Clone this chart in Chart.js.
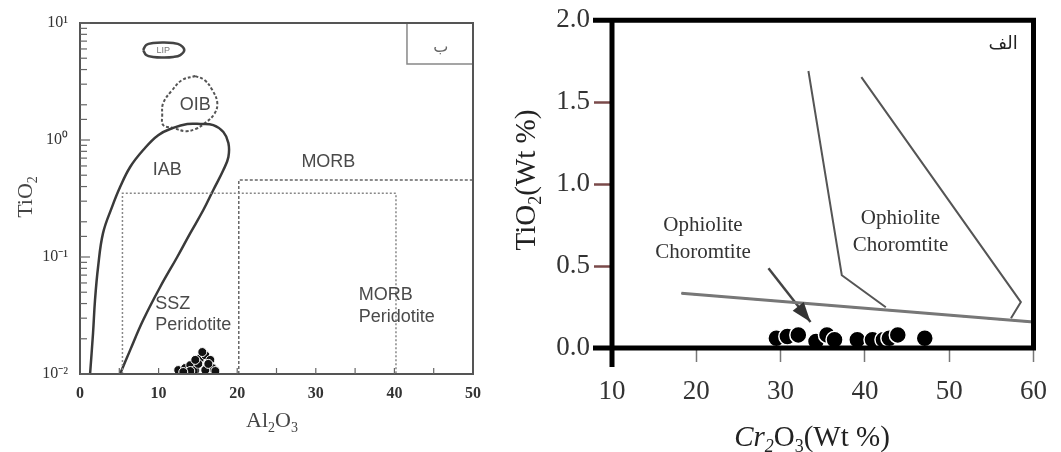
<!DOCTYPE html>
<html>
<head>
<meta charset="utf-8">
<script src="https://cdn.jsdelivr.net/npm/chart.js@4.4.1/dist/chart.umd.min.js"></script>
<style>
  body { margin: 0; background: #fff; width: 1061px; height: 452px; overflow: hidden; position: relative; }
  #leftBox { position: absolute; left: 0; top: 0; width: 500px; height: 452px; }
  #rightBox { position: absolute; left: 500px; top: 0; width: 561px; height: 452px; }
</style>
</head>
<body>
<div id="leftBox"><canvas id="leftChart" width="500" height="452"></canvas></div>
<div id="rightBox"><canvas id="rightChart" width="561" height="452"></canvas></div>
<script>
// ---- left diagram: TiO2 (log) vs Al2O3 ----
const leftXTicks = [0, 10, 20, 30, 40, 50];
const leftXMinor = [5, 10, 15, 20, 25, 30, 35, 40, 45];
const leftYTickLabels = ['10⁻²', '10⁻¹', '10⁰', '10¹'];

const lipField = [[8.04,5.87],[8.42,6.49],[9.31,6.74],[10.59,6.81],[11.86,6.74],[12.76,6.49],[13.27,5.87],
  [12.76,5.32],[11.86,5.12],[10.59,5.07],[9.31,5.12],[8.42,5.32],[8.04,5.87]];
const oibField = [[14.67,3.52],[15.82,3.26],[16.84,2.67],[17.47,2.07],[17.09,1.67],[15.94,1.40],[14.67,1.24],
  [13.39,1.19],[11.86,1.27],[10.59,1.34],[10.46,1.64],[10.59,2.07],[11.73,2.67],[13.01,3.26],[14.67,3.52]];
const iabField = [[1.28,0.01],[1.66,0.0224],[1.91,0.0429],[2.3,0.0821],[2.93,0.16],[4.08,0.268],[5.1,0.396],
  [6.38,0.588],[8.04,0.821],[9.95,1.1],[11.86,1.27],[13.65,1.37],[15.31,1.37],[16.96,1.34],[18.24,1.17],
  [18.88,0.943],[18.88,0.716],[18.24,0.554],[16.96,0.374],[15.69,0.252],[14.03,0.16],[12.37,0.1],
  [10.2,0.0554],[8.04,0.0289],[6.38,0.016],[5.1,0.01]];
const sszBox = [[5.4,0.01],[5.4,0.35],[40.2,0.35],[40.2,0.01]];
const morbBox = [[20.2,0.01],[20.2,0.455],[50,0.455]];
const keyBox = [[41.6,10],[41.6,4.47],[50,4.47]];
const leftSamples = [[12.5,0.0108],[13.39,0.01125],[14.03,0.0119],[14.67,0.0108],[15.31,0.0137],[15.94,0.0145],
  [16.58,0.0132],[16.84,0.01125],[15.94,0.0108],[15.05,0.0122],[14.03,0.0106],[17.22,0.0106],[15.56,0.0154],
  [16.33,0.0122],[13.14,0.0104],[14.67,0.0132]];

const leftNotes = [
  {t: 'OIB', x: 14.67, y: 1.99, align: 'center'},
  {t: 'IAB', x: 11.1, y: 0.554, align: 'center'},
  {t: 'MORB', x: 31.6, y: 0.648, align: 'center'},
  {t: 'SSZ', x: 9.57, y: 0.0396, align: 'left'},
  {t: 'Peridotite', x: 9.57, y: 0.0262, align: 'left'},
  {t: 'MORB', x: 35.46, y: 0.0473, align: 'left'},
  {t: 'Peridotite', x: 35.46, y: 0.0307, align: 'left'}
];

// ---- right diagram: TiO2 vs Cr2O3 ----
const rightXTicks = [10, 20, 30, 40, 50, 60];
const rightYTicks = [0, 0.5, 1.0, 1.5, 2.0];
const fieldA = [[33.3,1.69],[37.26,0.444],[42.48,0.249]];
const fieldB = [[39.58,1.653],[58.5,0.28],[57.33,0.182]];
const boundary = [[18.24,0.334],[60,0.158]];
const arrowLine = [[28.56,0.486],[33.55,0.158]];
const rightSamples = [[29.5,0.06],[30.8,0.07],[32.1,0.08],[34.2,0.04],[35.5,0.08],[36.4,0.05],
  [39.1,0.05],[40.9,0.05],[42.2,0.05],[42.9,0.06],[43.9,0.08],[47.1,0.06]];

const rightNotes = [
  {t: 'Ophiolite', x: 20.79, y: 0.748},
  {t: 'Choromtite', x: 20.79, y: 0.584},
  {t: 'Ophiolite', x: 44.22, y: 0.79},
  {t: 'Choromtite', x: 44.22, y: 0.626}
];

const pts = a => a.map(([x, y]) => ({x, y}));
const SERIF = '"Liberation Serif", "Times New Roman", serif';
const SANS = '"Liberation Sans", Arial, sans-serif';
Chart.defaults.font.family = SERIF;
Chart.defaults.animation = false;

function line(data, color, width, dash, tension) {
  return {data: pts(data), showLine: true, borderColor: color, borderWidth: width,
    borderDash: dash || [], pointRadius: 0, tension: tension || 0, fill: false};
}

// text with subscripts / italics, parts = [[text, 'i'|'s'|'is'|'']]
function richText(ctx, parts, cx, cy, size, rot, color) {
  ctx.save();
  ctx.translate(cx, cy);
  ctx.rotate(rot || 0);
  ctx.fillStyle = color;
  ctx.textBaseline = 'alphabetic';
  const fontOf = s => (s.includes('i') ? 'italic ' : '') + (s.includes('s') ? Math.round(size * 0.62) : size) + 'px ' + SERIF;
  let w = 0;
  parts.forEach(([t, s]) => { ctx.font = fontOf(s); w += ctx.measureText(t).width; });
  let x = -w / 2;
  parts.forEach(([t, s]) => {
    ctx.font = fontOf(s);
    ctx.fillText(t, x, size * 0.34 + (s.includes('s') ? size * 0.22 : 0));
    x += ctx.measureText(t).width;
  });
  ctx.restore();
}

const leftDecor = {
  id: 'leftDecor',
  afterDatasetsDraw(chart) {
    const {ctx, chartArea: a, scales: {x, y}} = chart;
    ctx.save();
    ctx.strokeStyle = '#555';
    ctx.lineWidth = 2;
    ctx.strokeRect(a.left, a.top, a.right - a.left, a.bottom - a.top);
    ctx.lineWidth = 1.2;
    ctx.strokeStyle = '#666';
    y.ticks.forEach(t => {
      const e = Math.log10(t.value);
      const major = Math.abs(e - Math.round(e)) < 1e-6;
      const p = y.getPixelForValue(t.value);
      ctx.beginPath(); ctx.moveTo(a.left, p); ctx.lineTo(a.left + (major ? 10 : 7), p); ctx.stroke();
    });
    leftXMinor.forEach(v => {
      const p = x.getPixelForValue(v);
      ctx.beginPath(); ctx.moveTo(p, a.bottom); ctx.lineTo(p, a.bottom - 6); ctx.stroke();
    });
    ctx.fillStyle = '#4a4a4a';
    ctx.font = '18px ' + SANS;
    ctx.textBaseline = 'middle';
    leftNotes.forEach(n => {
      ctx.textAlign = n.align;
      ctx.fillText(n.t, x.getPixelForValue(n.x), y.getPixelForValue(n.y));
    });
    ctx.textAlign = 'center';
    ctx.font = '9px ' + SANS;
    ctx.fillStyle = '#777';
    ctx.fillText('LIP', x.getPixelForValue(10.59), y.getPixelForValue(5.87));
    ctx.font = '16px "DejaVu Sans", sans-serif';
    ctx.fillStyle = '#666';
    ctx.fillText('ب', x.getPixelForValue(45.9), y.getPixelForValue(6.1));
    ctx.restore();
    richText(ctx, [['TiO', ''], ['2', 's']], 25, 197, 22, -Math.PI / 2, '#444');
    richText(ctx, [['Al', ''], ['2', 's'], ['O', ''], ['3', 's']], 272, 420, 22, 0, '#444');
  }
};

new Chart(document.getElementById('leftChart'), {
  type: 'scatter',
  data: {
    datasets: [
      line(sszBox, '#888', 1.5, [2, 2]),
      line(morbBox, '#666', 1.5, [3, 2]),
      line(keyBox, '#888', 1.5),
      line(iabField, '#3a3a3a', 2.5, [], 0.4),
      line(oibField, '#555', 2, [3, 2], 0.4),
      line(lipField, '#444', 2.5, [], 0.4),
      {data: pts(leftSamples), pointRadius: 4.5, pointBackgroundColor: '#111', pointBorderColor: '#fff', pointBorderWidth: 1}
    ]
  },
  options: {
    responsive: false,
    layout: {padding: {top: 23, right: 27, left: 0, bottom: 0}},
    plugins: {legend: {display: false}, tooltip: {enabled: false}},
    scales: {
      x: {
        type: 'linear', min: 0, max: 50,
        afterFit: s => { s.height = 78; },
        afterBuildTicks: s => { s.ticks = leftXTicks.map(v => ({value: v})); },
        grid: {display: false},
        border: {display: false},
        ticks: {padding: 2, color: '#333', font: {size: 16, weight: 'bold'}}
      },
      y: {
        type: 'logarithmic', min: 0.01, max: 10,
        afterFit: s => { s.width = 80; },
        grid: {display: false},
        border: {display: false},
        ticks: {
          padding: 4, color: '#333', font: {size: 16},
          autoSkip: false,
          callback: v => {
            const e = Math.log10(v);
            return Math.abs(e - Math.round(e)) < 1e-6 ? leftYTickLabels[Math.round(e) + 2] : '';
          }
        }
      }
    }
  },
  plugins: [leftDecor]
});

const rightDecor = {
  id: 'rightDecor',
  afterDatasetsDraw(chart) {
    const {ctx, chartArea: a, scales: {x, y}} = chart;
    ctx.save();
    // arrow head
    const x0 = x.getPixelForValue(arrowLine[0][0]), y0 = y.getPixelForValue(arrowLine[0][1]);
    const x1 = x.getPixelForValue(arrowLine[1][0]), y1 = y.getPixelForValue(arrowLine[1][1]);
    const ang = Math.atan2(y1 - y0, x1 - x0);
    ctx.fillStyle = '#333';
    ctx.beginPath();
    ctx.moveTo(x1, y1);
    ctx.lineTo(x1 - 20 * Math.cos(ang) + 7 * Math.sin(ang), y1 - 20 * Math.sin(ang) - 7 * Math.cos(ang));
    ctx.lineTo(x1 - 20 * Math.cos(ang) - 7 * Math.sin(ang), y1 - 20 * Math.sin(ang) + 7 * Math.cos(ang));
    ctx.closePath();
    ctx.fill();
    // heavy frame
    ctx.strokeStyle = '#000';
    ctx.lineWidth = 5;
    ctx.lineCap = 'butt';
    ctx.beginPath();
    ctx.moveTo(a.left - 19, a.top); ctx.lineTo(a.right, a.top); ctx.lineTo(a.right, a.bottom); ctx.lineTo(a.left - 19, a.bottom);
    ctx.moveTo(a.left, a.top); ctx.lineTo(a.left, a.bottom + 19);
    ctx.stroke();
    // labels
    ctx.fillStyle = '#333';
    ctx.font = '21px ' + SERIF;
    ctx.textAlign = 'center';
    ctx.textBaseline = 'middle';
    rightNotes.forEach(n => ctx.fillText(n.t, x.getPixelForValue(n.x), y.getPixelForValue(n.y)));
    ctx.font = '18px "DejaVu Sans", sans-serif';
    ctx.fillStyle = '#222';
    ctx.fillText('الف', x.getPixelForValue(56.4), y.getPixelForValue(1.854));
    ctx.restore();
    richText(ctx, [['TiO', ''], ['2', 's'], ['(Wt %)', '']], 25, 180, 29, -Math.PI / 2, '#222');
    richText(ctx, [['Cr', 'i'], ['2', 'is'], ['O', ''], ['3', 's'], ['(Wt %)', '']], 312, 436, 29, 0, '#222');
  }
};

new Chart(document.getElementById('rightChart'), {
  type: 'scatter',
  data: {
    datasets: [
      line(boundary, '#777', 3),
      line(boundary, '#333', 1.5, [5, 4]),
      line(fieldA, '#555', 2),
      line(fieldB, '#555', 2),
      line(arrowLine, '#444', 2.5),
      {data: pts(rightSamples), pointRadius: 8.5, pointBackgroundColor: '#000', pointBorderColor: '#fff', pointBorderWidth: 1.5}
    ]
  },
  options: {
    responsive: false,
    layout: {padding: {top: 19, right: 18, left: 0, bottom: 0}},
    plugins: {legend: {display: false}, tooltip: {enabled: false}},
    scales: {
      x: {
        type: 'linear', min: 10, max: 60,
        afterFit: s => { s.height = 104; },
        afterBuildTicks: s => { s.ticks = rightXTicks.map(v => ({value: v})); },
        grid: {drawOnChartArea: false, drawTicks: true, tickLength: 14, tickWidth: 1.5, tickColor: '#777'},
        border: {display: false},
        ticks: {padding: 14, color: '#333', font: {size: 27}}
      },
      y: {
        type: 'linear', min: 0, max: 2,
        afterFit: s => { s.width = 112; },
        afterBuildTicks: s => { s.ticks = rightYTicks.map(v => ({value: v})); },
        grid: {drawOnChartArea: false, drawTicks: true, tickLength: 18, tickWidth: 2.5,
          tickColor: c => (c.tick && (c.tick.value === 0 || c.tick.value === 2)) ? '#000' : '#7a4a4a'},
        border: {display: false},
        ticks: {padding: 4, color: '#333', font: {size: 27}, callback: v => v.toFixed(1)}
      }
    }
  },
  plugins: [rightDecor]
});
</script>
</body>
</html>
